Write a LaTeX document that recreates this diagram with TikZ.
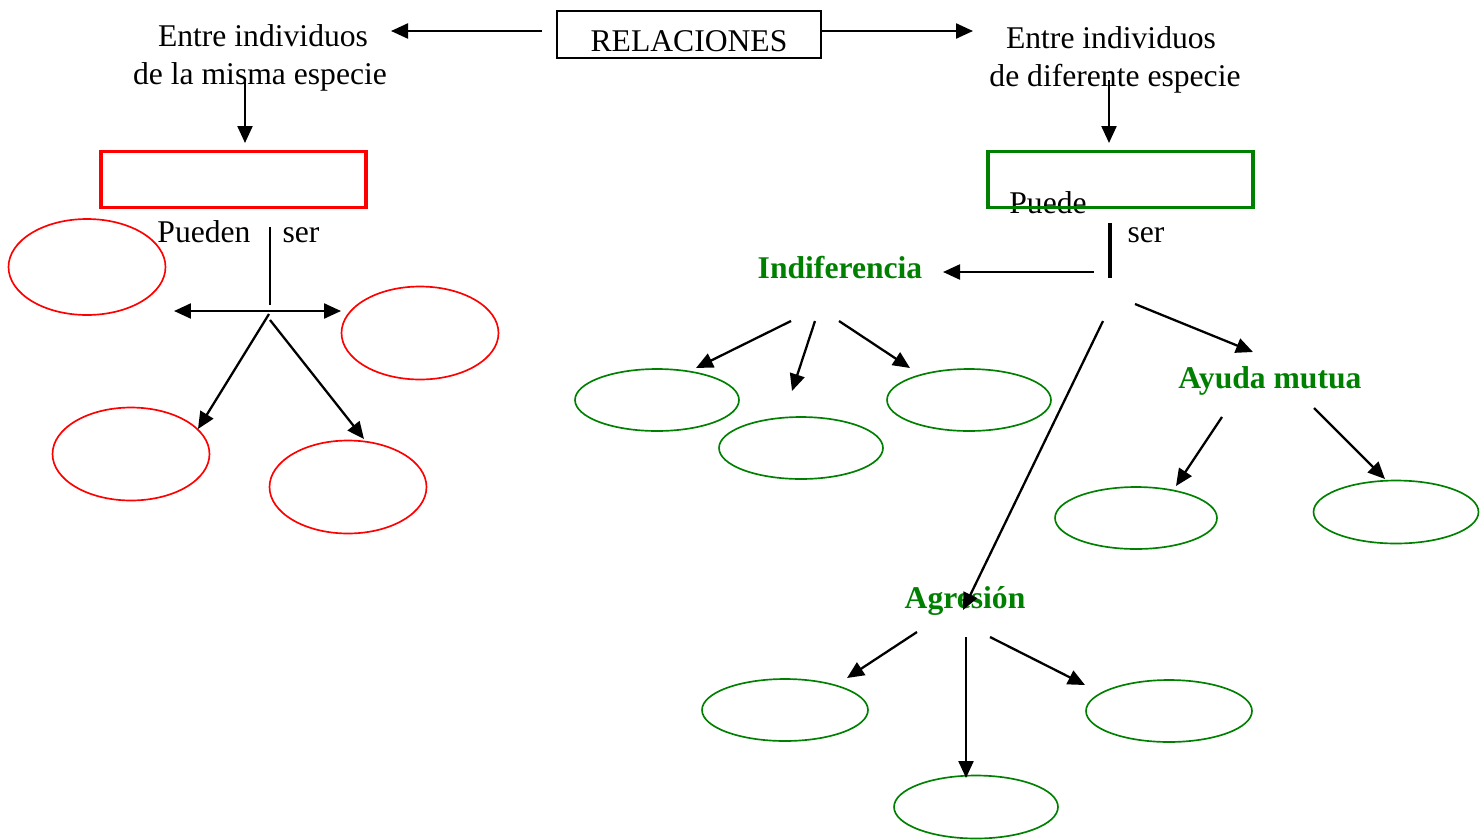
\documentclass[tikz,border=0pt]{standalone}
\usepackage{fontspec}
\setmainfont{Liberation Serif}
\usetikzlibrary{arrows.meta,shapes.geometric}
\definecolor{grn}{RGB}{0,128,0}
\begin{document}
\begin{tikzpicture}[x=0.02cm,y=-0.02cm,
  txt/.style={font=\fontsize{18}{21.5}\selectfont, inner sep=0, anchor=base},
  btxt/.style={font=\fontsize{18}{21.5}\selectfont\bfseries, text=grn, inner sep=0, anchor=base},
  arr/.style={line width=1.3pt, -{Triangle[length=0.34cm,width=0.3cm]}},
  darr/.style={line width=1.3pt, {Triangle[length=0.34cm,width=0.3cm]}-{Triangle[length=0.34cm,width=0.3cm]}},
  redov/.style={ellipse, draw=red, line width=0.95pt, inner sep=0, minimum width=3.14cm, minimum height=1.86cm},
  grnov/.style={ellipse, draw=grn, line width=0.95pt, inner sep=0, minimum width=3.28cm, minimum height=1.24cm},
  bigbox/.style={draw, line width=2.2pt, inner sep=0, minimum width=5.3cm, minimum height=1.12cm}
]
\useasboundingbox (0,0) rectangle (1480,839);

% title
\node[draw, line width=1.1pt, inner sep=0, minimum width=5.28cm, minimum height=0.94cm,
      font=\fontsize{18}{21.5}\selectfont, text height=0.66cm, text depth=0pt] (rel) at (689,34.5) {RELACIONES};

% side texts
\node[txt] (l1) at (263,46) {Entre individuos};
\node[txt] (l2) at (260,84) {de la misma especie};
\node[txt] (r1) at (1111,48) {Entre individuos};
\node[txt] (r2) at (1115,86) {de diferente especie};

% coordinates of free ends
\coordinate (aL0) at (542,31); \coordinate (aL1) at (391,31);
\coordinate (aR0) at (822,31); \coordinate (aR1) at (973,31);
\coordinate (dL0) at (245,80); \coordinate (dL1) at (245,143);
\coordinate (dR0) at (1109,80); \coordinate (dR1) at (1109,143);

\draw[arr] (aL0) -- (aL1);
\draw[arr] (aR0) -- (aR1);
\draw[arr] (dL0) -- (dL1);
\draw[arr] (dR0) -- (dR1);

% left branch
\node[txt] (pueden) at (204,242) {Pueden};
\node[txt] (serL) at (301,242) {ser};
\node[bigbox, draw=red] (boxL) at (233.5,179.5) {};

\coordinate (vL0) at (270,227); \coordinate (vL1) at (270,305);
\draw[line width=0.8pt] (vL0) -- (vL1);
\coordinate (hL0) at (174,311); \coordinate (hL1) at (341,311);
\draw[darr] (hL0) -- (hL1);

\node[redov, minimum height=1.92cm] (e1) at (87,267) {};
\node[redov] (e2) at (420,333) {};
\node[redov] (e3) at (131,454) {};
\node[redov] (e4) at (348,487) {};

\coordinate (sL1) at (269,314); \coordinate (tL1) at (198,429);
\coordinate (sL2) at (270,320); \coordinate (tL2) at (364,439);
\draw[arr] (sL1) -- (tL1);
\draw[arr] (sL2) -- (tL2);

% right branch
\node[txt] (puede) at (1048,213) {Puede};
\node[txt] (serR) at (1146,242) {ser};
\node[bigbox, draw=grn] (boxR) at (1120.5,179.5) {};

\coordinate (vR0) at (1110,223); \coordinate (vR1) at (1110,278);
\draw[line width=1.8pt] (vR0) -- (vR1);

\node[btxt] (indif) at (840,278) {Indiferencia};
\node[btxt] (ayuda) at (1270,388) {Ayuda mutua};
\node[btxt] (agres) at (965,608) {Agresión};

\coordinate (iA0) at (1094,272); \coordinate (iA1) at (943,272);
\draw[arr] (iA0) -- (iA1);

\node[grnov] (g1) at (657,400) {};
\node[grnov] (g2) at (801,448) {};
\node[grnov] (g3) at (969,400) {};
\node[grnov, minimum width=3.24cm] (g4) at (1136,518) {};
\node[grnov, minimum width=3.3cm, minimum height=1.26cm] (g5) at (1396,512) {};
\node[grnov, minimum width=3.32cm] (g6) at (785,710) {};
\node[grnov, minimum width=3.32cm] (g7) at (1169,711) {};
\node[grnov, minimum height=1.26cm] (g8) at (976,807) {};

\coordinate (i10) at (791,321); \coordinate (i11) at (696,368);
\coordinate (i20) at (815,321); \coordinate (i21) at (792,391);
\coordinate (i30) at (839,321); \coordinate (i31) at (910,368);
\draw[arr] (i10) -- (i11);
\draw[arr] (i20) -- (i21);
\draw[arr] (i30) -- (i31);

\coordinate (m0) at (1135,304); \coordinate (m1) at (1253,352);
\draw[arr] (m0) -- (m1);
\coordinate (a10) at (1222,417); \coordinate (a11) at (1176,486);
\coordinate (a20) at (1314,408); \coordinate (a21) at (1385,479);
\draw[arr] (a10) -- (a11);
\draw[arr] (a20) -- (a21);

\coordinate (lg0) at (1103,321); \coordinate (lg1) at (963,610);
\draw[arr] (lg0) -- (lg1);

\coordinate (g10) at (917,632); \coordinate (g11) at (847,678);
\coordinate (g20) at (966,637); \coordinate (g21) at (966,778);
\coordinate (g30) at (990,637); \coordinate (g31) at (1085,685);
\draw[arr] (g10) -- (g11);
\draw[arr] (g20) -- (g21);
\draw[arr] (g30) -- (g31);
\end{tikzpicture}
\end{document}
